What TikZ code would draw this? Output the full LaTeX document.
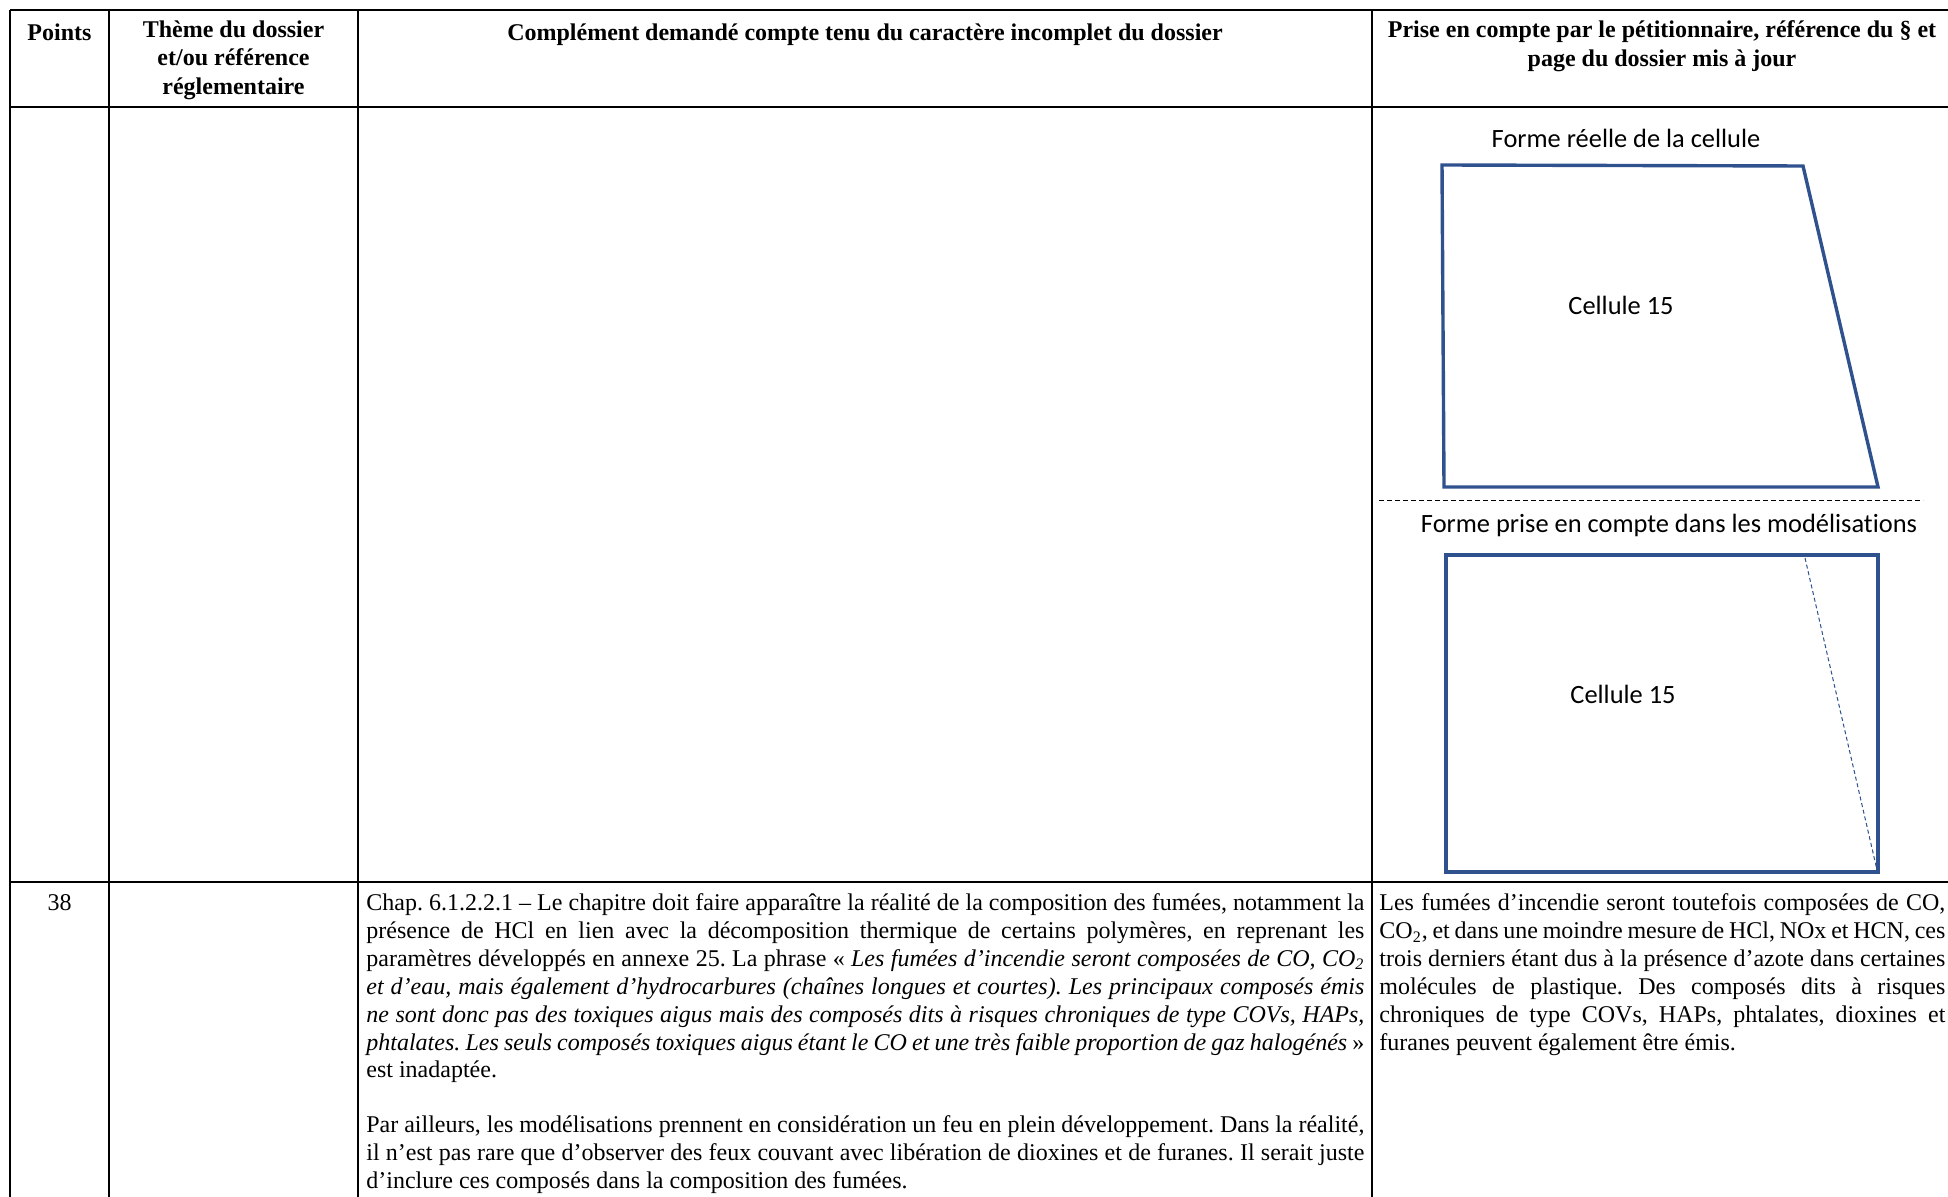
\documentclass[tikz,border=0pt]{standalone}
\usepackage{fontspec}
\setmainfont{Liberation Serif}
\newfontfamily\figfont[Ligatures=NoCommon]{Carlito}
\definecolor{cellblue}{HTML}{2F528F}
\frenchspacing
\newcommand{\textthem}{Thème du dossier\\ et/ou référence\\ réglementaire}
\newcommand{\textcompl}{Complément demandé compte tenu du caractère incomplet du dossier}
\newcommand{\textprise}{Prise en compte par le pétitionnaire, référence du § et\\ page du dossier mis à jour}
\newcommand{\textchap}{Chap. 6.1.2.2.1 – Le chapitre doit faire apparaître la réalité de la composition des fumées, notamment la\linebreak
présence de HCl en lien avec la décomposition thermique de certains polymères, en reprenant les\linebreak
paramètres développés en annexe 25. La phrase «~\textit{Les fumées d’incendie seront composées de CO, CO\textsubscript{2}\linebreak
et d’eau, mais également d’hydrocarbures (chaînes longues et courtes). Les principaux composés émis\linebreak
ne sont donc pas des toxiques aigus mais des composés dits à risques chroniques de type COVs, HAPs,\linebreak
phtalates. Les seuls composés toxiques aigus étant le CO et une très faible proportion de gaz halogénés}~»\linebreak
est inadaptée.\\[13.3pt]
Par ailleurs, les modélisations prennent en considération un feu en plein développement. Dans la réalité,\linebreak
il n’est pas rare que d’observer des feux couvant avec libération de dioxines et de furanes. Il serait juste\linebreak
d’inclure ces composés dans la composition des fumées.}
\newcommand{\textrep}{Les fumées d’incendie seront toutefois composées de CO,\linebreak
CO\textsubscript{2}, et dans une moindre mesure de HCl, NOx et HCN, ces\linebreak
trois derniers étant dus à la présence d’azote dans certaines\linebreak
molécules de plastique. Des composés dits à risques\linebreak
chroniques de type COVs, HAPs, phtalates, dioxines et\linebreak
furanes peuvent également être émis.}

\begin{document}
\begin{tikzpicture}[x=0.5pt,y=-0.5pt,
    any/.style={inner sep=0pt,font=\fontsize{12}{13.95}\selectfont,execute at begin node=\strut},
    header/.style={any,anchor=north,font=\fontsize{12}{14.4}\selectfont\bfseries,align=center},
    body/.style={any,anchor=north west,align=justify},
    figtext/.style={inner sep=0pt,anchor=base,font=\figfont\fontsize{13.2}{16}\selectfont},
    rule/.style={line width=0.6pt},
    cellform/.style={draw=cellblue,line width=1.7pt},
    sepline/.style={line width=0.5pt,dash pattern=on 2.3pt off 1.7pt}
]
\useasboundingbox (0,0) rectangle (1948,1197);

\draw[rule] (10,10) -- (1948,10);
\draw[rule] (10,107) -- (1948,107);
\draw[rule] (10,882) -- (1948,882);
\foreach \x in {10,109,358,1372}
  \draw[rule] (\x,10) -- (\x,1197);

\node[header] (points) at (59.5,20) {Points};
\node[header] (theme) at (233.5,20) {\textthem};
\node[header] (compl) at (865,20) {\textcompl};
\node[header] (prise) at (1662,20) {\textprise};

\node[figtext] (reelle) at (1626,148) {Forme réelle de la cellule};
\draw[cellform] (1442,165) -- (1803,166) -- (1878,487) -- (1444,487) -- cycle;
\node[figtext] (cellreelle) at (1621,315) {Cellule 15};
\draw[sepline] (1379,501) -- (1923,501);
\node[figtext] (modele) at (1669,532) {Forme prise en compte dans les modélisations};
\draw[cellform] (1446,555) rectangle (1878,872);
\node[figtext] (cellmodele) at (1623,703) {Cellule 15};
\draw[cellblue,line width=0.5pt,dash pattern=on 2pt off 1.4pt] (1805,558) -- (1877,870);

\node[any,anchor=north] (num) at (59.5,890.6) {38};
\node[body,text width=499pt] (chap) at (366,890.6) {\textchap};
\node[body,text width=283pt] (rep) at (1379,890.6) {\textrep};
\end{tikzpicture}
\end{document}
